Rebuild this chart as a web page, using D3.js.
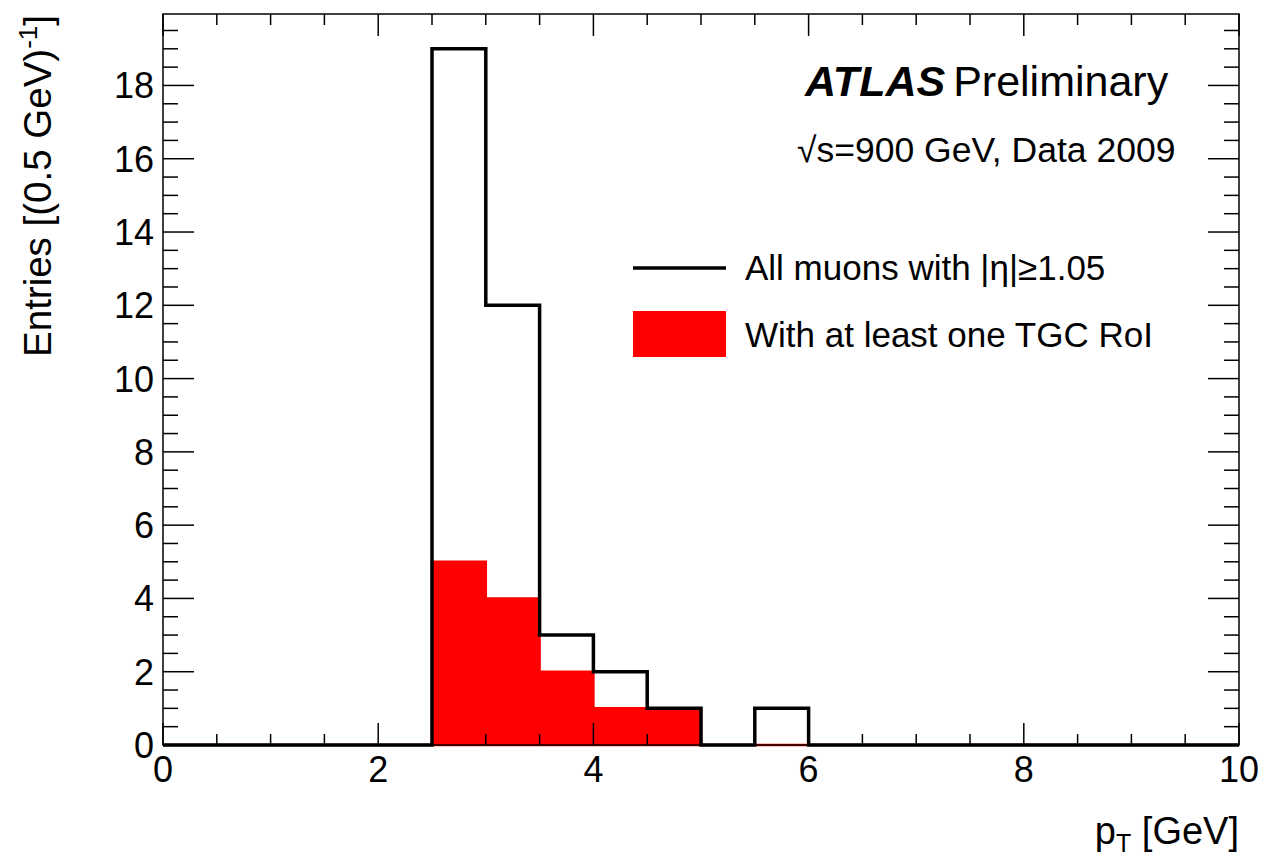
<!DOCTYPE html>
<html>
<head>
<meta charset="utf-8">
<script src="https://cdn.jsdelivr.net/npm/d3@7"></script>
<style>
  body { margin: 0; background: #fff; }
  text { font-family: "Liberation Sans", Arial, sans-serif; fill: #000; }
</style>
</head>
<body>
<div class="chart"></div>
<script>
// histogram bins, 0.5 GeV wide
const binEdges = d3.range(0, 10.01, 0.5)
const allMuons = [0,0,0,0,0, 19,12,3,2,1, 0,1,0,0,0, 0,0,0,0,0]
const withRoI  = [0,0,0,0,0, 5,4,2,1,1, 0,0,0,0,0, 0,0,0,0,0]
const xTicks = [0, 2, 4, 6, 8, 10]
const yTicks = [0, 2, 4, 6, 8, 10, 12, 14, 16, 18]
const legendLabels = ["All muons with |\u03b7|\u22651.05", "With at least one TGC RoI"]

const W = 1266, H = 860
const margin = {top: 14, right: 27, bottom: 115, left: 163}
const svg = d3.select(".chart").append("svg").attr("width", W).attr("height", H)

const x = d3.scaleLinear().domain([0, 10]).range([margin.left, W - margin.right])
const y = d3.scaleLinear().domain([0, 19.95]).range([H - margin.bottom, margin.top])

// step outline of a histogram
function stepPts(vals) {
  const pts = [[x(0), y(0)]]
  vals.forEach((v, i) => {
    pts.push([x(binEdges[i]), y(v)])
    pts.push([x(binEdges[i + 1]), y(v)])
  })
  pts.push([x(10), y(0)])
  return pts
}
const line = d3.line()

// red histogram (fill + red outline)
svg.append("path").attr("d", line(stepPts(withRoI)) + "Z")
   .attr("fill", "#ff0000").attr("stroke", "#ff0000").attr("stroke-width", 2.5)

// black histogram outline
svg.append("path").attr("d", line(stepPts(allMuons)))
   .attr("fill", "none").attr("stroke", "#000").attr("stroke-width", 3.5)

// frame
svg.append("rect").attr("x", x(0)).attr("y", y(19.95))
   .attr("width", x(10) - x(0)).attr("height", y(0) - y(19.95))
   .attr("fill", "none").attr("stroke", "#000").attr("stroke-width", 1.5)

// ticks on all four sides
const xMinor = d3.range(0, 10.01, 0.5)
const yMinor = d3.range(0, 19.95, 0.5)
const ticksG = svg.append("g").attr("stroke", "#000").attr("stroke-width", 1.5)
xMinor.forEach(v => {
  const len = xTicks.includes(v) ? 22 : 11
  ticksG.append("line").attr("x1", x(v)).attr("x2", x(v)).attr("y1", y(0)).attr("y2", y(0) - len)
  ticksG.append("line").attr("x1", x(v)).attr("x2", x(v)).attr("y1", y(19.95)).attr("y2", y(19.95) + len)
})
yMinor.forEach(v => {
  const len = yTicks.includes(v) ? 31 : 15
  ticksG.append("line").attr("x1", x(0)).attr("x2", x(0) + len).attr("y1", y(v)).attr("y2", y(v))
  ticksG.append("line").attr("x1", x(10)).attr("x2", x(10) - len).attr("y1", y(v)).attr("y2", y(v))
})

// tick labels
svg.selectAll(".xl").data(xTicks).enter().append("text")
   .attr("x", d => x(d)).attr("y", y(0) + 37).attr("text-anchor", "middle")
   .style("font-size", "36px").text(d => d)
svg.selectAll(".yl").data(yTicks).enter().append("text")
   .attr("x", x(0) - 9).attr("y", d => y(d) + 13).attr("text-anchor", "end")
   .style("font-size", "36px").text(d => d)

// axis titles
const xt = svg.append("text").attr("x", x(10)).attr("y", 844).attr("text-anchor", "end")
              .style("font-size", "38px")
xt.append("tspan").text("p")
xt.append("tspan").attr("dy", 8).style("font-size", "25px").text("T")
xt.append("tspan").attr("dy", -8).text(" [GeV]")

const yt = svg.append("text").attr("transform", "translate(51,15) rotate(-90)")
              .attr("text-anchor", "end").style("font-size", "38.5px")
yt.append("tspan").text("Entries [(0.5 GeV)")
yt.append("tspan").attr("dy", -14).style("font-size", "26px").text("-1")
yt.append("tspan").attr("dy", 14).text("]")

// ATLAS label
const atl = svg.append("text").attr("x", 805).attr("y", 96).style("font-size", "43px")
atl.append("tspan").style("font-weight", "bold").style("font-style", "italic").text("ATLAS")
atl.append("tspan").attr("dx", 8).text("Preliminary")
svg.append("text").attr("x", 797).attr("y", 162).style("font-size", "35.5px")
   .text("\u221as=900 GeV, Data 2009")

// legend
svg.append("line").attr("x1", 633).attr("x2", 726).attr("y1", 268).attr("y2", 268)
   .attr("stroke", "#000").attr("stroke-width", 3.5)
svg.append("rect").attr("x", 633).attr("y", 311).attr("width", 93).attr("height", 46)
   .attr("fill", "#ff0000")
svg.selectAll(".lg").data(legendLabels).enter().append("text")
   .attr("x", 745).attr("y", (d, i) => 280 + i * 67).style("font-size", "35px").text(d => d)
</script>
</body>
</html>
